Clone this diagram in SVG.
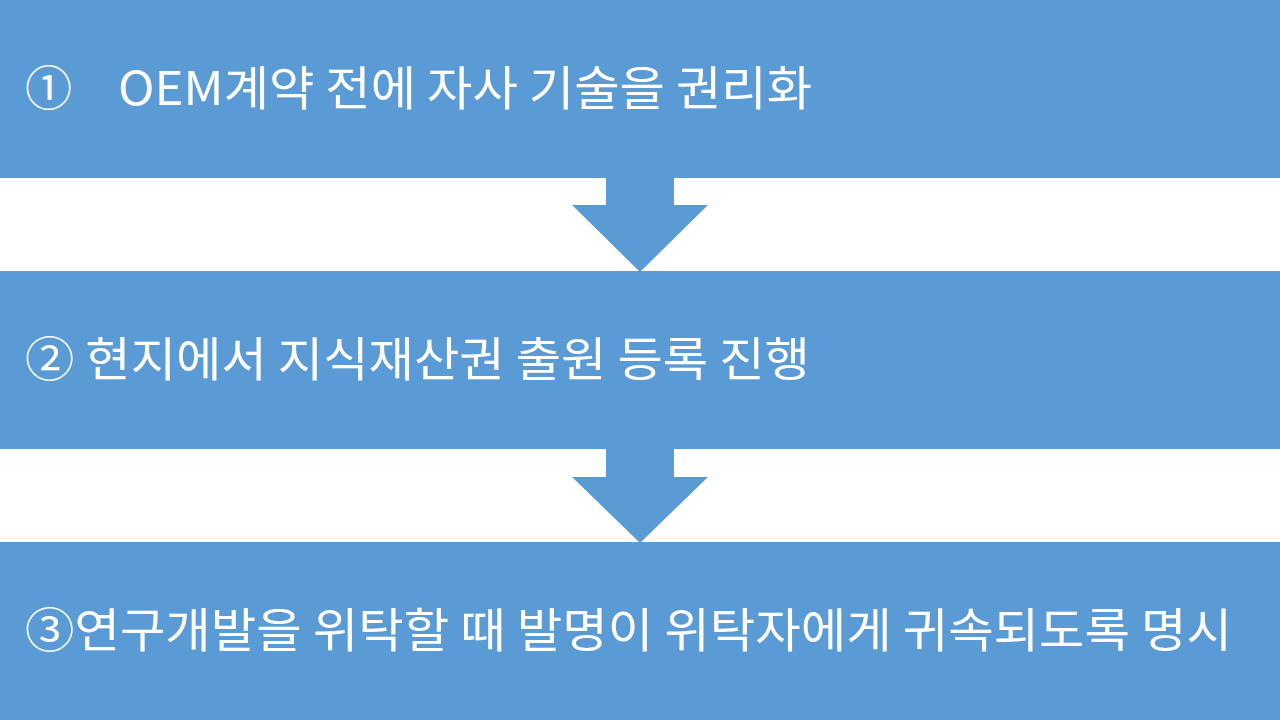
<svg xmlns="http://www.w3.org/2000/svg" width="1280" height="720" viewBox="0 0 1280 720">
<style>
.band{fill:#5B9BD5}
.arrow{fill:#5B9BD5}
.t{fill:#FFFFFF;font-family:"Noto Sans CJK KR","Noto Sans",sans-serif;font-size:47px}
</style>
<rect width="1280" height="720" fill="#FFFFFF"/>
<g id="step1">
<rect class="band" x="0" y="0" width="1280" height="178"/>
<text class="t" x="25" y="105">①</text>
<text class="t" x="118" y="105" textLength="694" lengthAdjust="spacingAndGlyphs">OEM계약 전에 자사 기술을 권리화</text>
</g>
<g id="step2">
<rect class="band" x="0" y="271" width="1280" height="178"/>
<text class="t" x="25" y="376" textLength="785" lengthAdjust="spacingAndGlyphs">② 현지에서 지식재산권 출원 등록 진행</text>
</g>
<g id="step3">
<rect class="band" x="0" y="542" width="1280" height="178"/>
<text class="t" x="25" y="647" textLength="1207" lengthAdjust="spacingAndGlyphs">③연구개발을 위탁할 때 발명이 위탁자에게 귀속되도록 명시</text>
</g>
<g id="connectors">
<polygon class="arrow" points="606,178 674,178 674,205 708,205 640,272 572,205 606,205"/>
<polygon class="arrow" points="606,449 674,449 674,477 708,477 640,543 572,477 606,477"/>
</g>
</svg>
